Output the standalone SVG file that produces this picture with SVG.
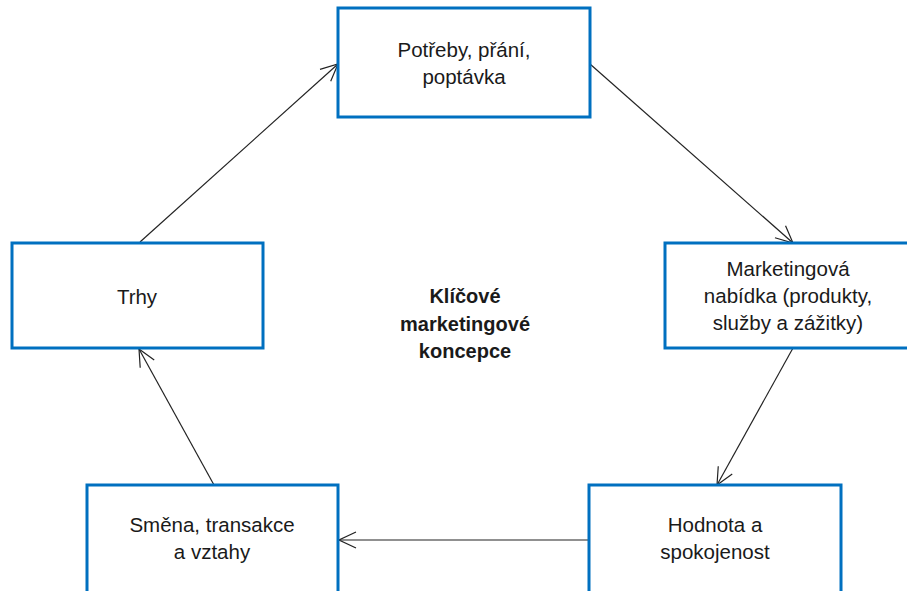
<svg xmlns="http://www.w3.org/2000/svg" width="907" height="591" viewBox="0 0 907 591">
<style>
.box{fill:#fff;stroke:#0070C0;stroke-width:3}
.t{font-family:"Liberation Sans",Arial,sans-serif;font-size:20.5px;fill:#1a1a1a;text-anchor:middle}
.b{font-weight:bold;font-size:20px}
.c{stroke:#222;stroke-width:1.2;fill:none;marker-end:url(#ah)}
</style>
<defs>
<marker id="ah" viewBox="0 0 20 20" refX="19" refY="10" markerWidth="20" markerHeight="20" markerUnits="userSpaceOnUse" orient="auto">
<path d="M2,2 L19,10 L2,18" fill="none" stroke="#222" stroke-width="1.2"/>
</marker>
</defs>
<rect width="907" height="591" fill="#fff"/>
<g id="connectors">
<line class="c" x1="140" y1="242" x2="338" y2="64"/>
<line class="c" x1="590" y1="64" x2="793" y2="243"/>
<line class="c" x1="793" y1="348" x2="717" y2="485"/>
<line class="c" x1="589" y1="540" x2="339" y2="540"/>
<line class="c" x1="214" y1="485" x2="139" y2="349"/>
</g>
<g id="n-potreby">
<rect class="box" x="338" y="8" width="252" height="109"/>
<text class="t" x="464" y="57">Potřeby, přání,</text>
<text class="t" x="464" y="84">poptávka</text>
</g>
<g id="n-nabidka">
<rect class="box" x="665" y="243" width="250" height="105"/>
<text class="t" x="788" y="276">Marketingová</text>
<text class="t" x="788" y="303">nabídka (produkty,</text>
<text class="t" x="788" y="330">služby a zážitky)</text>
</g>
<g id="n-hodnota">
<rect class="box" x="589" y="485" width="252" height="115"/>
<text class="t" x="715" y="532">Hodnota a</text>
<text class="t" x="715" y="559">spokojenost</text>
</g>
<g id="n-smena">
<rect class="box" x="87" y="485" width="251" height="115"/>
<text class="t" x="212" y="532">Směna, transakce</text>
<text class="t" x="212" y="559">a vztahy</text>
</g>
<g id="n-trhy">
<rect class="box" x="12" y="243" width="251" height="105"/>
<text class="t" x="137" y="304">Trhy</text>
</g>
<g id="center">
<text class="t b" x="465" y="303">Klíčové</text>
<text class="t b" x="465" y="331">marketingové</text>
<text class="t b" x="465" y="358">koncepce</text>
</g>
</svg>
